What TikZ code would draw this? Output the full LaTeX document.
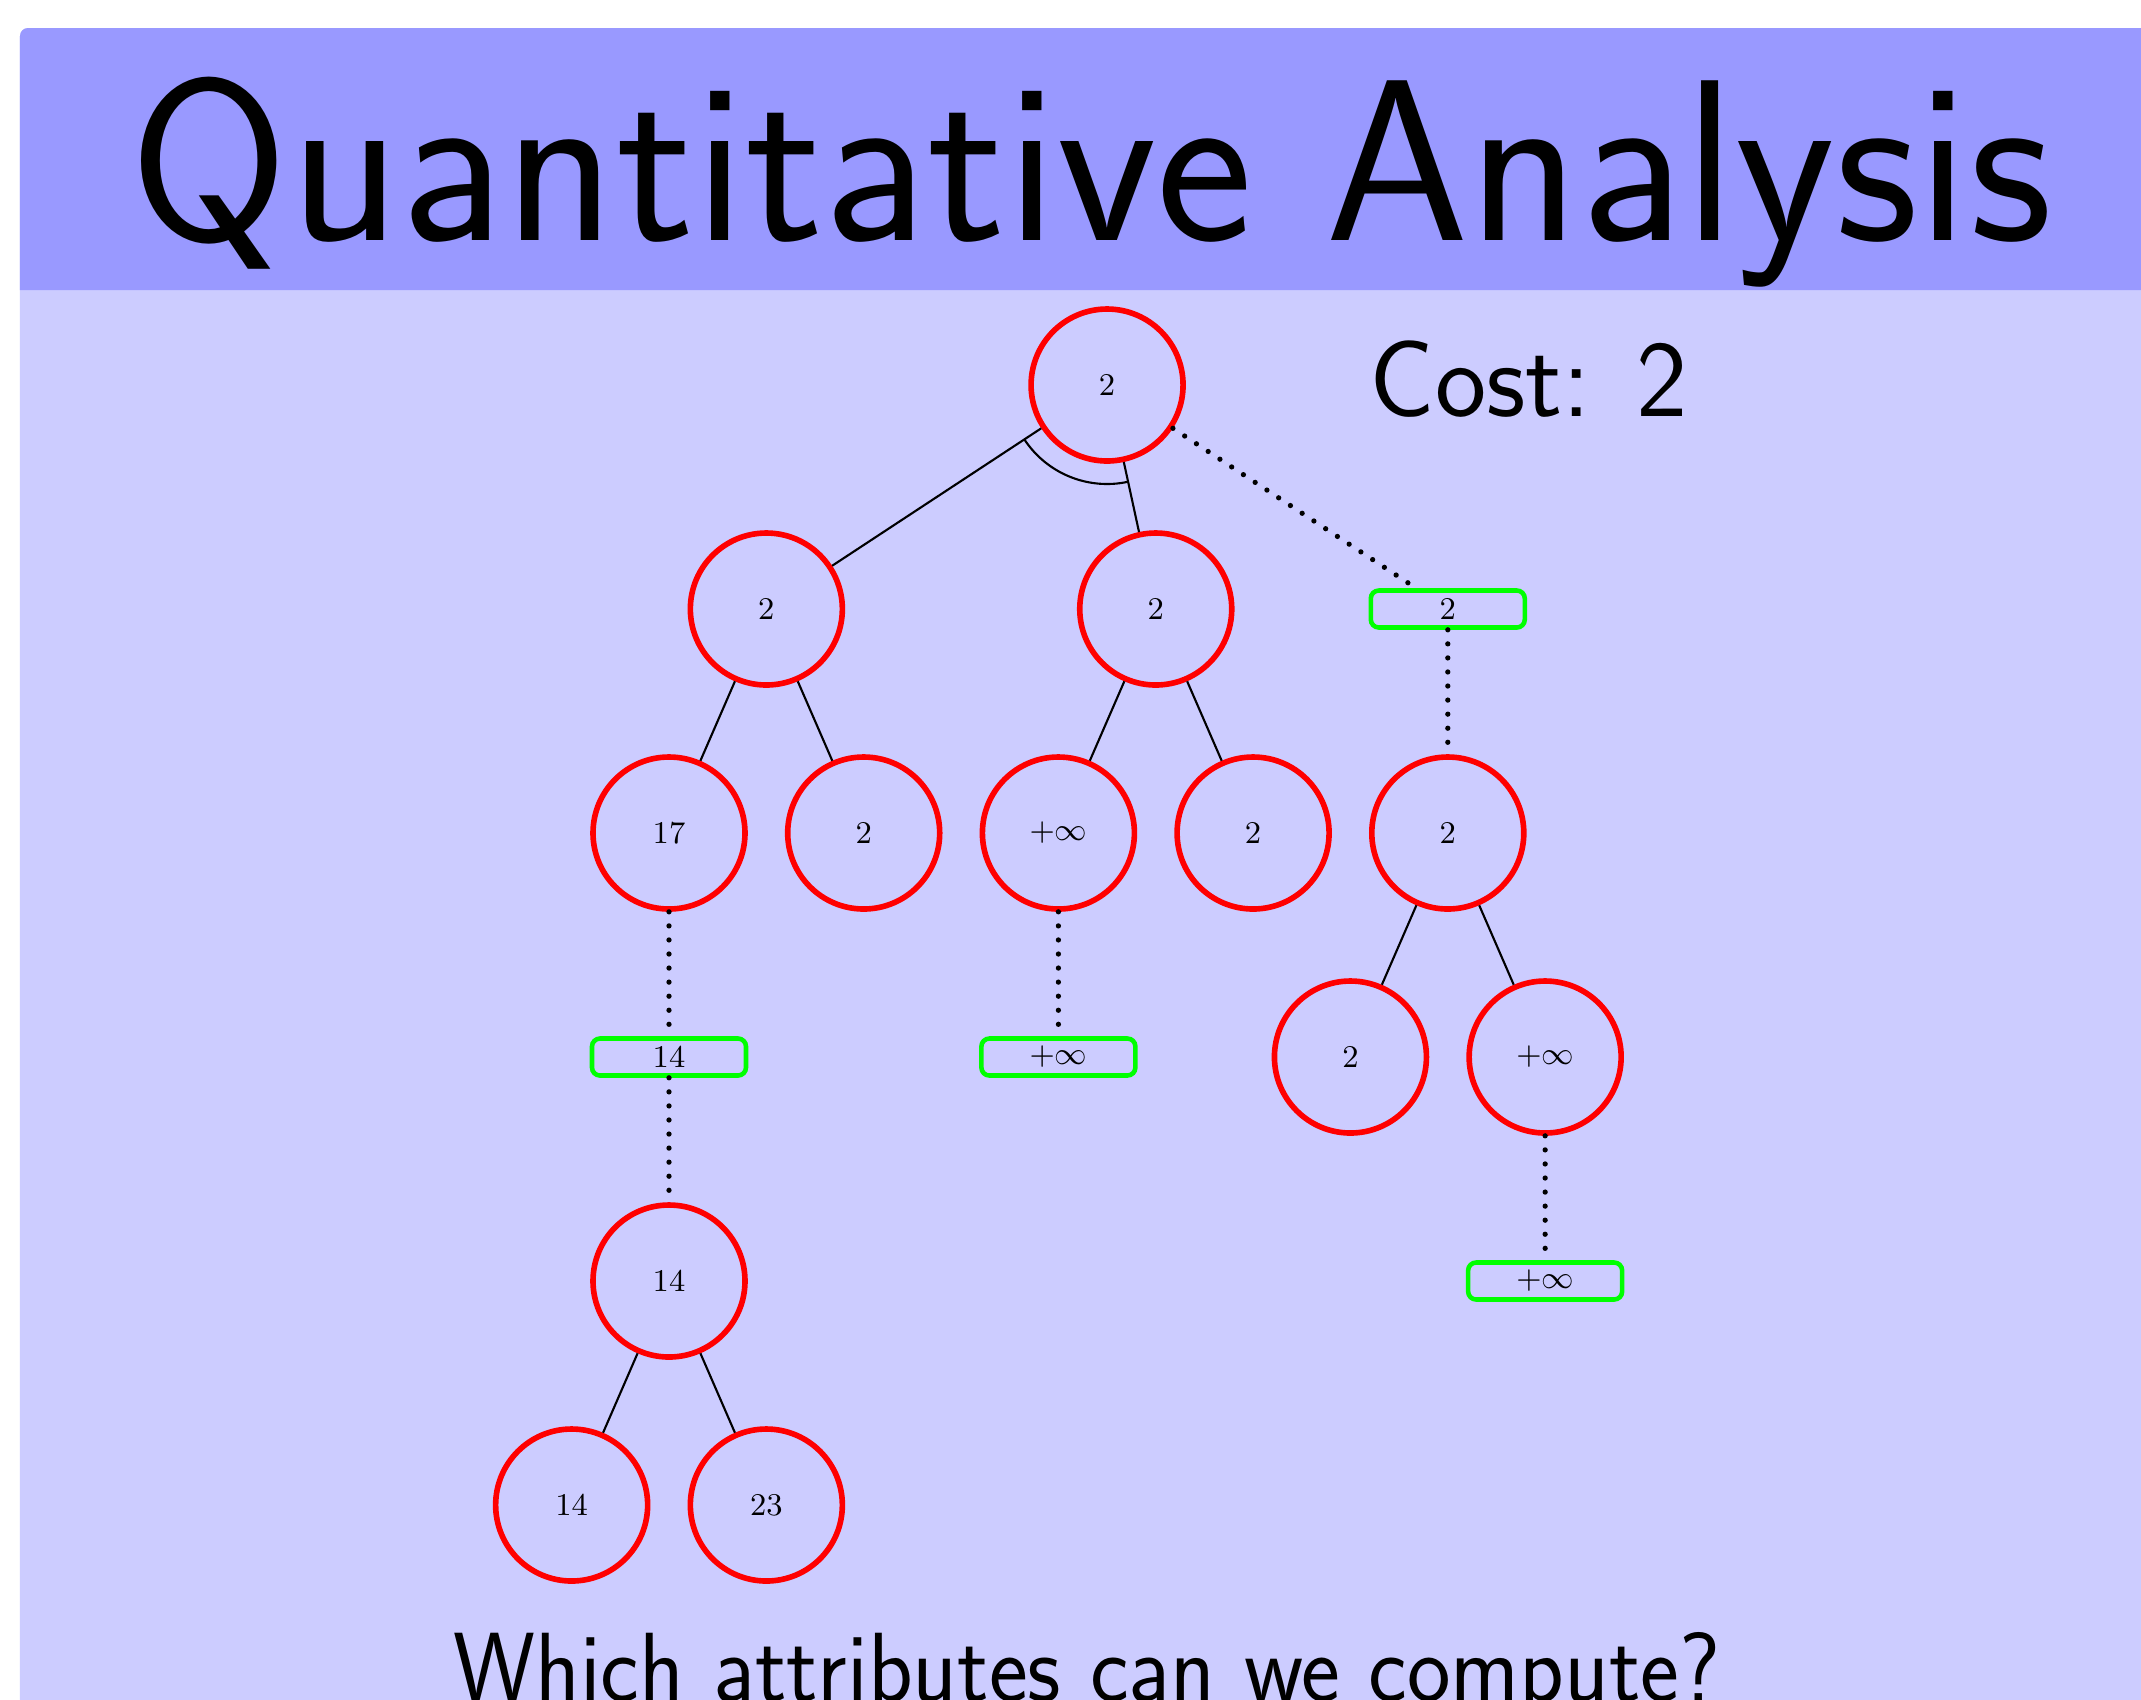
\documentclass[tikz,border=0pt]{standalone}
\usepackage{amsmath}
\usepackage{xcolor}
\usepackage{tikz}
\usetikzlibrary{arrows.meta, positioning, shapes.geometric, calc}

\tikzset{
  ornode/.style={circle, draw=red, line width=1.6pt, minimum size=1.52cm, inner sep=0pt,
    font=\fontsize{9}{11}\selectfont},
  leafbox/.style={rectangle, rounded corners=0.08cm, draw=green, line width=1.3pt,
    minimum width=1.54cm, minimum height=0.37cm, inner sep=0pt, font=\fontsize{9}{11}\selectfont},
  solidedge/.style={line width=0.6pt},
  dotedge/.style={line width=1.5pt, line cap=round, dash pattern=on 0pt off 4pt}
}

\begin{document}
\begin{tikzpicture}
  \useasboundingbox (0,0) rectangle (21.41,-16.99);
  \clip (0,0) rectangle (21.41,-16.99);
  % slide
  \fill[white] (0,0) rectangle (21.41,-16.99);
  \fill[blue!20, rounded corners=0.08cm] (0.20,-0.28) rectangle (22.5,-18);
  \fill[blue!40] (0.20,-2.90) [rounded corners=0.08cm] -- (0.20,-0.28) -- (22.5,-0.28) [sharp corners] -- (22.5,-2.90) -- cycle;
  \node[anchor=base, inner sep=0pt, font=\sffamily\fontsize{65.5}{72}\selectfont] (title) at (10.91,-2.40) {Quantitative Analysis};
  \node[anchor=base west, inner sep=0pt, font=\sffamily\fontsize{31}{36}\selectfont] (cost) at (13.69,-4.16) {Cost: 2};
  \node[anchor=base, inner sep=0pt, xscale=0.94, font=\sffamily\fontsize{28}{32}\selectfont] (question) at (10.87,-17.01) {Which attributes can we compute?};

  \begin{scope}[shift={(6.69cm,-3.85cm)}, x=0.9735cm, y={(0cm,-2.24cm)}]
    % nodes
    \node[ornode] (r) at (4.5,0) {2};
    \node[ornode] (a) at (1,1) {2};
    \node[ornode] (b) at (5,1) {2};
    \node[leafbox] (c) at (8,1) {2};
    \node[ornode] (aa) at (0,2) {17};
    \node[ornode] (ab) at (2,2) {2};
    \node[ornode] (ba) at (4,2) {$+\infty$};
    \node[ornode] (bb) at (6,2) {2};
    \node[ornode] (ca) at (8,2) {2};
    \node[leafbox] (aaa) at (0,3) {14};
    \node[leafbox] (baa) at (4,3) {$+\infty$};
    \node[ornode] (caa) at (7,3) {2};
    \node[ornode] (cab) at (9,3) {$+\infty$};
    \node[ornode] (aaaa) at (0,4) {14};
    \node[leafbox] (caba) at (9,4) {$+\infty$};
    \node[ornode] (aaaaa) at (-1,5) {14};
    \node[ornode] (aaaab) at (1,5) {23};

    % edges
    \foreach \p/\q in {r/a, r/b, a/aa, a/ab, b/ba, b/bb, ca/caa, ca/cab, aaaa/aaaaa, aaaa/aaaab}
      \draw[solidedge] (\p) -- (\q);
    \foreach \p/\q in {r/c, c/ca, aa/aaa, aaa/aaaa, ba/baa, cab/caba}
      \draw[dotedge] (\p) -- (\q);

    % and-arc
    \draw[solidedge] let \p1=($(a)-(r)$), \p2=($(b)-(r)$),
      \n1={atan2(\y1,\x1)}, \n2={atan2(\y2,\x2)} in
      ($(r)!0.99cm!(a)$) arc[start angle=\n1, end angle=\n2, radius=0.99cm];
  \end{scope}
\end{tikzpicture}
\end{document}
